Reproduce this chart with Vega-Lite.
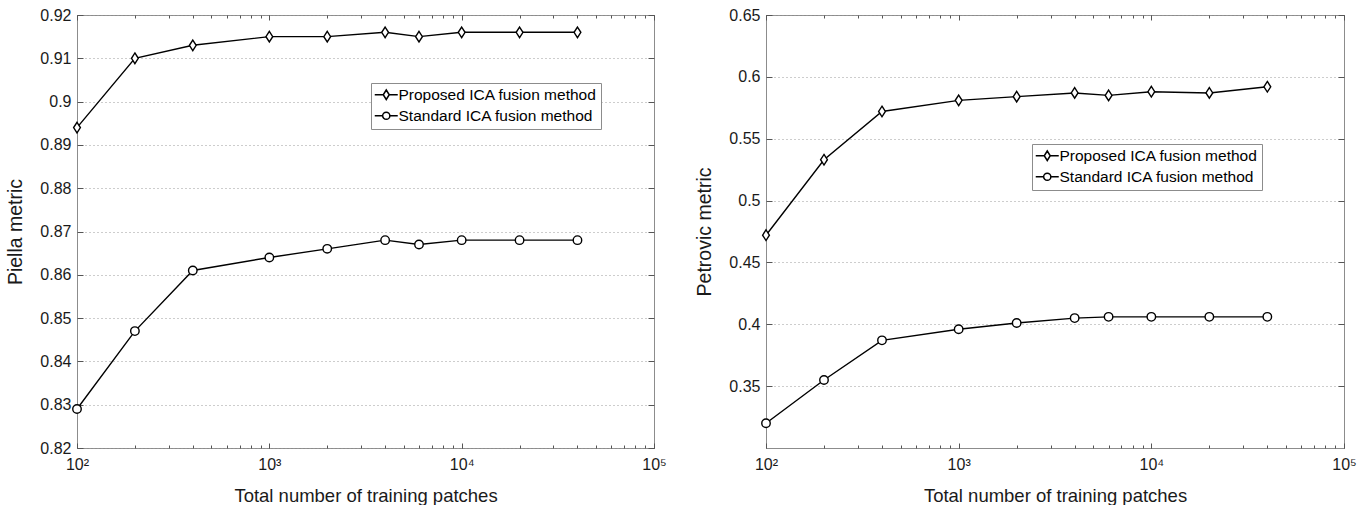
{
  "$schema": "https://vega.github.io/schema/vega-lite/v6.json",
  "background": "white",
  "padding": {"left": 5, "top": 6, "right": 0, "bottom": 0},
  "datasets": {
    "piella": [
      {"n": 100, "value": 0.894, "method": "Proposed ICA fusion method"},
      {"n": 200, "value": 0.910, "method": "Proposed ICA fusion method"},
      {"n": 400, "value": 0.913, "method": "Proposed ICA fusion method"},
      {"n": 1000, "value": 0.915, "method": "Proposed ICA fusion method"},
      {"n": 2000, "value": 0.915, "method": "Proposed ICA fusion method"},
      {"n": 4000, "value": 0.916, "method": "Proposed ICA fusion method"},
      {"n": 6000, "value": 0.915, "method": "Proposed ICA fusion method"},
      {"n": 10000, "value": 0.916, "method": "Proposed ICA fusion method"},
      {"n": 20000, "value": 0.916, "method": "Proposed ICA fusion method"},
      {"n": 40000, "value": 0.916, "method": "Proposed ICA fusion method"},
      {"n": 100, "value": 0.829, "method": "Standard ICA fusion method"},
      {"n": 200, "value": 0.847, "method": "Standard ICA fusion method"},
      {"n": 400, "value": 0.861, "method": "Standard ICA fusion method"},
      {"n": 1000, "value": 0.864, "method": "Standard ICA fusion method"},
      {"n": 2000, "value": 0.866, "method": "Standard ICA fusion method"},
      {"n": 4000, "value": 0.868, "method": "Standard ICA fusion method"},
      {"n": 6000, "value": 0.867, "method": "Standard ICA fusion method"},
      {"n": 10000, "value": 0.868, "method": "Standard ICA fusion method"},
      {"n": 20000, "value": 0.868, "method": "Standard ICA fusion method"},
      {"n": 40000, "value": 0.868, "method": "Standard ICA fusion method"}
    ],
    "petrovic": [
      {"n": 100, "value": 0.472, "method": "Proposed ICA fusion method"},
      {"n": 200, "value": 0.533, "method": "Proposed ICA fusion method"},
      {"n": 400, "value": 0.572, "method": "Proposed ICA fusion method"},
      {"n": 1000, "value": 0.581, "method": "Proposed ICA fusion method"},
      {"n": 2000, "value": 0.584, "method": "Proposed ICA fusion method"},
      {"n": 4000, "value": 0.587, "method": "Proposed ICA fusion method"},
      {"n": 6000, "value": 0.585, "method": "Proposed ICA fusion method"},
      {"n": 10000, "value": 0.588, "method": "Proposed ICA fusion method"},
      {"n": 20000, "value": 0.587, "method": "Proposed ICA fusion method"},
      {"n": 40000, "value": 0.592, "method": "Proposed ICA fusion method"},
      {"n": 100, "value": 0.320, "method": "Standard ICA fusion method"},
      {"n": 200, "value": 0.355, "method": "Standard ICA fusion method"},
      {"n": 400, "value": 0.387, "method": "Standard ICA fusion method"},
      {"n": 1000, "value": 0.396, "method": "Standard ICA fusion method"},
      {"n": 2000, "value": 0.401, "method": "Standard ICA fusion method"},
      {"n": 4000, "value": 0.405, "method": "Standard ICA fusion method"},
      {"n": 6000, "value": 0.406, "method": "Standard ICA fusion method"},
      {"n": 10000, "value": 0.406, "method": "Standard ICA fusion method"},
      {"n": 20000, "value": 0.406, "method": "Standard ICA fusion method"},
      {"n": 40000, "value": 0.406, "method": "Standard ICA fusion method"}
    ]
  },
  "config": {
    "font": "Liberation Sans",
    "view": {"stroke": "#8c8c8c", "strokeWidth": 1},
    "axis": {
      "labelFont": "Liberation Sans",
      "titleFont": "Liberation Sans",
      "labelColor": "#1a1a1a",
      "titleColor": "#1a1a1a",
      "titleFontWeight": "normal",
      "labelFontSize": 16,
      "titleFontSize": 18.5,
      "labelFlush": false,
      "domain": false,
      "tickColor": "#555555",
      "tickWidth": 1
    }
  },
  "spacing": 112,
  "bounds": "flush",
  "resolve": {"scale": {"shape": "independent"}, "legend": {"shape": "independent"}},
  "hconcat": [
    {
      "width": 577,
      "height": 433,
      "data": {"name": "piella"},
      "resolve": {"axis": {"x": "independent", "y": "independent"}, "scale": {"shape": "independent"}, "legend": {"shape": "independent"}},
      "layer": [
        {
          "mark": {"type": "line", "color": "black", "strokeWidth": 1.4},
          "encoding": {
            "x": {"field": "n", "type": "quantitative", "scale": {"type": "log", "domain": [100, 100000]},
              "axis": {"orient": "bottom", "values": [100, 1000, 10000, 100000], "labelExpr": "datum.value == 100 ? '10²' : datum.value == 1000 ? '10³' : datum.value == 10000 ? '10⁴' : '10⁵'", "ticks": false, "grid": false, "title": "Total number of training patches", "labelPadding": 8, "titlePadding": 14}},
            "y": {"field": "value", "type": "quantitative", "scale": {"domain": [0.82, 0.92], "zero": false, "nice": false},
              "axis": {"orient": "left", "values": [0.82, 0.83, 0.84, 0.85, 0.86, 0.87, 0.88, 0.89, 0.9, 0.91, 0.92], "format": "~g", "ticks": false, "grid": true, "gridDash": [1, 3], "gridColor": "#9a9a9a", "labelPadding": 6, "title": "Piella metric", "titleFontSize": 19.5, "titlePadding": 14}},
            "detail": {"field": "method", "type": "nominal"}
          }
        },
        {
          "mark": {"type": "point", "filled": true, "fill": "white", "stroke": "black", "strokeWidth": 1.4, "size": 72, "opacity": 1},
          "encoding": {
            "x": {"field": "n", "type": "quantitative", "scale": {"type": "log", "domain": [100, 100000]},
              "axis": {"orient": "bottom", "values": [100, 200, 300, 400, 500, 600, 700, 800, 900, 1000, 2000, 3000, 4000, 5000, 6000, 7000, 8000, 9000, 10000, 20000, 30000, 40000, 50000, 60000, 70000, 80000, 90000, 100000], "labels": false, "ticks": true, "tickSize": -3, "grid": false, "title": null}},
            "y": {"field": "value", "type": "quantitative", "scale": {"domain": [0.82, 0.92], "zero": false, "nice": false},
              "axis": {"orient": "left", "values": [0.82, 0.83, 0.84, 0.85, 0.86, 0.87, 0.88, 0.89, 0.9, 0.91, 0.92], "labels": false, "ticks": true, "tickSize": -6, "grid": false, "title": null}},
            "shape": {"field": "method", "type": "nominal",
              "scale": {"domain": ["Proposed ICA fusion method", "Standard ICA fusion method"], "range": ["M0,-1.25L0.8,0L0,1.25L-0.8,0Z", "circle"]},
              "legend": null}
          }
        },
        {
          "transform": [{"filter": "false"}],
          "mark": {"type": "point", "filled": true, "fill": "white", "stroke": "black", "strokeWidth": 1.3, "size": 100, "opacity": 1},
          "encoding": {
            "x": {"field": "n", "type": "quantitative", "scale": {"type": "log", "domain": [100, 100000]}, "axis": null},
            "y": {"field": "value", "type": "quantitative", "scale": {"domain": [0.82, 0.92], "zero": false, "nice": false}, "axis": null},
            "shape": {"field": "method", "type": "nominal",
              "scale": {"domain": ["Proposed ICA fusion method", "Standard ICA fusion method"], "range": ["M-1.6,0L0.1,0M1.3,0L3,0M0.7,-0.95L1.3,0L0.7,0.95L0.1,0Z", "M-1.6,0L-0.02,0M1.42,0L3,0M1.42,0A0.72,0.72,0,1,1,-0.02,0A0.72,0.72,0,1,1,1.42,0Z"]},
              "legend": {"orient": "none", "legendX": 294, "legendY": 68, "title": null, "strokeColor": "#8c8c8c", "fillColor": "white", "padding": 4, "rowPadding": 4, "labelFontSize": 15.5, "labelFont": "Liberation Sans", "labelColor": "black", "labelLimit": 0, "labelOffset": 8}}
          }
        },
        {
          "mark": {"type": "point", "opacity": 0},
          "encoding": {
            "x": {"field": "n", "type": "quantitative", "scale": {"type": "log", "domain": [100, 100000]},
              "axis": {"orient": "top", "values": [100, 200, 300, 400, 500, 600, 700, 800, 900, 1000, 2000, 3000, 4000, 5000, 6000, 7000, 8000, 9000, 10000, 20000, 30000, 40000, 50000, 60000, 70000, 80000, 90000, 100000], "labels": false, "ticks": true, "tickSize": -3, "grid": false, "title": null}},
            "y": {"field": "value", "type": "quantitative", "scale": {"domain": [0.82, 0.92], "zero": false, "nice": false},
              "axis": {"orient": "right", "values": [0.82, 0.83, 0.84, 0.85, 0.86, 0.87, 0.88, 0.89, 0.9, 0.91, 0.92], "labels": false, "ticks": true, "tickSize": -6, "grid": false, "title": null}}
          }
        },
        {
          "mark": {"type": "point", "opacity": 0},
          "encoding": {
            "x": {"field": "n", "type": "quantitative", "scale": {"type": "log", "domain": [100, 100000]},
              "axis": {"orient": "bottom", "values": [100, 1000, 10000, 100000], "labels": false, "ticks": true, "tickSize": -5, "grid": false, "title": null}},
            "y": {"field": "value", "type": "quantitative", "scale": {"domain": [0.82, 0.92], "zero": false, "nice": false}, "axis": null}
          }
        },
        {
          "mark": {"type": "point", "opacity": 0},
          "encoding": {
            "x": {"field": "n", "type": "quantitative", "scale": {"type": "log", "domain": [100, 100000]},
              "axis": {"orient": "top", "values": [100, 1000, 10000, 100000], "labels": false, "ticks": true, "tickSize": -5, "grid": false, "title": null}},
            "y": {"field": "value", "type": "quantitative", "scale": {"domain": [0.82, 0.92], "zero": false, "nice": false}, "axis": null}
          }
        }
      ]
    },
    {
      "width": 578,
      "height": 433,
      "data": {"name": "petrovic"},
      "resolve": {"axis": {"x": "independent", "y": "independent"}, "scale": {"shape": "independent"}, "legend": {"shape": "independent"}},
      "layer": [
        {
          "mark": {"type": "line", "color": "black", "strokeWidth": 1.4},
          "encoding": {
            "x": {"field": "n", "type": "quantitative", "scale": {"type": "log", "domain": [100, 100000]},
              "axis": {"orient": "bottom", "values": [100, 1000, 10000, 100000], "labelExpr": "datum.value == 100 ? '10²' : datum.value == 1000 ? '10³' : datum.value == 10000 ? '10⁴' : '10⁵'", "ticks": false, "grid": false, "title": "Total number of training patches", "labelPadding": 8, "titlePadding": 14}},
            "y": {"field": "value", "type": "quantitative", "scale": {"domain": [0.3, 0.65], "zero": false, "nice": false},
              "axis": {"orient": "left", "values": [0.35, 0.4, 0.45, 0.5, 0.55, 0.6, 0.65], "format": "~g", "ticks": false, "grid": true, "gridDash": [1, 3], "gridColor": "#9a9a9a", "labelPadding": 6, "title": "Petrovic metric", "titleFontSize": 19.5, "titlePadding": 14}},
            "detail": {"field": "method", "type": "nominal"}
          }
        },
        {
          "mark": {"type": "point", "filled": true, "fill": "white", "stroke": "black", "strokeWidth": 1.4, "size": 72, "opacity": 1},
          "encoding": {
            "x": {"field": "n", "type": "quantitative", "scale": {"type": "log", "domain": [100, 100000]},
              "axis": {"orient": "bottom", "values": [100, 200, 300, 400, 500, 600, 700, 800, 900, 1000, 2000, 3000, 4000, 5000, 6000, 7000, 8000, 9000, 10000, 20000, 30000, 40000, 50000, 60000, 70000, 80000, 90000, 100000], "labels": false, "ticks": true, "tickSize": -3, "grid": false, "title": null}},
            "y": {"field": "value", "type": "quantitative", "scale": {"domain": [0.3, 0.65], "zero": false, "nice": false},
              "axis": {"orient": "left", "values": [0.35, 0.4, 0.45, 0.5, 0.55, 0.6, 0.65], "labels": false, "ticks": true, "tickSize": -6, "grid": false, "title": null}},
            "shape": {"field": "method", "type": "nominal",
              "scale": {"domain": ["Proposed ICA fusion method", "Standard ICA fusion method"], "range": ["M0,-1.25L0.8,0L0,1.25L-0.8,0Z", "circle"]},
              "legend": null}
          }
        },
        {
          "transform": [{"filter": "false"}],
          "mark": {"type": "point", "filled": true, "fill": "white", "stroke": "black", "strokeWidth": 1.3, "size": 100, "opacity": 1},
          "encoding": {
            "x": {"field": "n", "type": "quantitative", "scale": {"type": "log", "domain": [100, 100000]}, "axis": null},
            "y": {"field": "value", "type": "quantitative", "scale": {"domain": [0.3, 0.65], "zero": false, "nice": false}, "axis": null},
            "shape": {"field": "method", "type": "nominal",
              "scale": {"domain": ["Proposed ICA fusion method", "Standard ICA fusion method"], "range": ["M-1.6,0L0.1,0M1.3,0L3,0M0.7,-0.95L1.3,0L0.7,0.95L0.1,0Z", "M-1.6,0L-0.02,0M1.42,0L3,0M1.42,0A0.72,0.72,0,1,1,-0.02,0A0.72,0.72,0,1,1,1.42,0Z"]},
              "legend": {"orient": "none", "legendX": 266, "legendY": 129, "title": null, "strokeColor": "#8c8c8c", "fillColor": "white", "padding": 4, "rowPadding": 4, "labelFontSize": 15.5, "labelFont": "Liberation Sans", "labelColor": "black", "labelLimit": 0, "labelOffset": 8}}
          }
        },
        {
          "mark": {"type": "point", "opacity": 0},
          "encoding": {
            "x": {"field": "n", "type": "quantitative", "scale": {"type": "log", "domain": [100, 100000]},
              "axis": {"orient": "top", "values": [100, 200, 300, 400, 500, 600, 700, 800, 900, 1000, 2000, 3000, 4000, 5000, 6000, 7000, 8000, 9000, 10000, 20000, 30000, 40000, 50000, 60000, 70000, 80000, 90000, 100000], "labels": false, "ticks": true, "tickSize": -3, "grid": false, "title": null}},
            "y": {"field": "value", "type": "quantitative", "scale": {"domain": [0.3, 0.65], "zero": false, "nice": false},
              "axis": {"orient": "right", "values": [0.35, 0.4, 0.45, 0.5, 0.55, 0.6, 0.65], "labels": false, "ticks": true, "tickSize": -6, "grid": false, "title": null}}
          }
        },
        {
          "mark": {"type": "point", "opacity": 0},
          "encoding": {
            "x": {"field": "n", "type": "quantitative", "scale": {"type": "log", "domain": [100, 100000]},
              "axis": {"orient": "bottom", "values": [100, 1000, 10000, 100000], "labels": false, "ticks": true, "tickSize": -5, "grid": false, "title": null}},
            "y": {"field": "value", "type": "quantitative", "scale": {"domain": [0.3, 0.65], "zero": false, "nice": false}, "axis": null}
          }
        },
        {
          "mark": {"type": "point", "opacity": 0},
          "encoding": {
            "x": {"field": "n", "type": "quantitative", "scale": {"type": "log", "domain": [100, 100000]},
              "axis": {"orient": "top", "values": [100, 1000, 10000, 100000], "labels": false, "ticks": true, "tickSize": -5, "grid": false, "title": null}},
            "y": {"field": "value", "type": "quantitative", "scale": {"domain": [0.3, 0.65], "zero": false, "nice": false}, "axis": null}
          }
        }
      ]
    }
  ]
}
